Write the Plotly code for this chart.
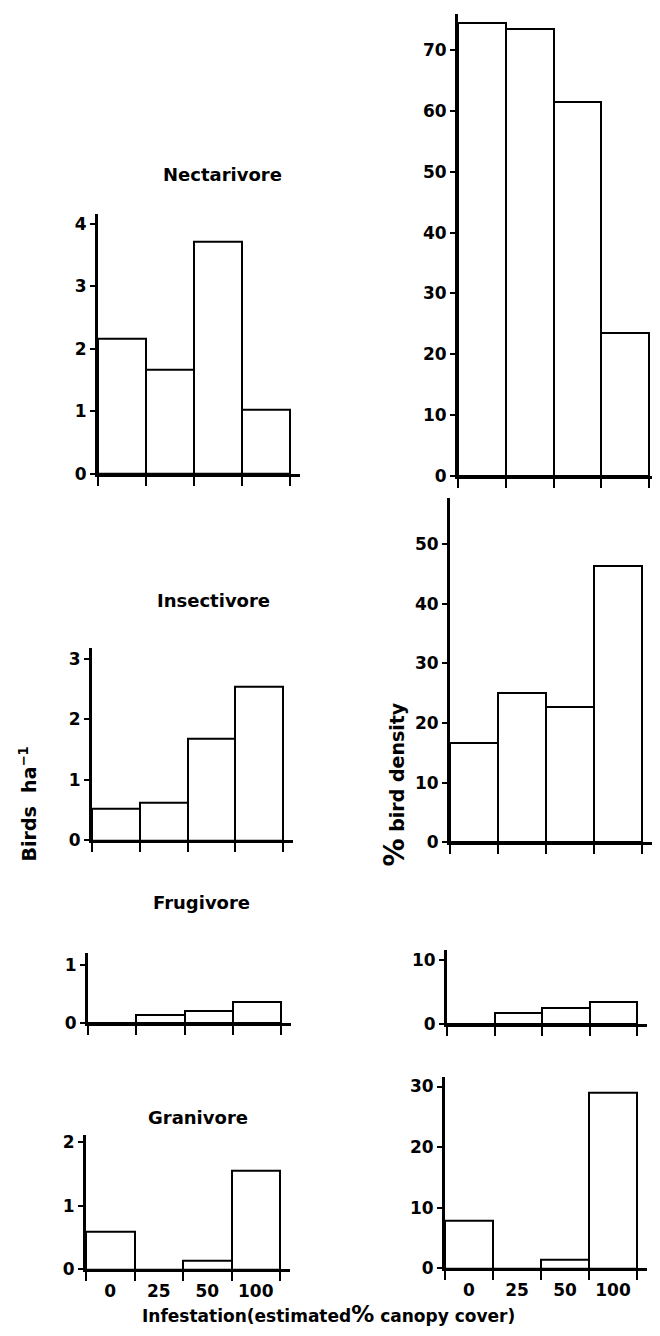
import plotly.graph_objects as go

OFF = 8  # default page margin of the browser
W, H = 660 - OFF, 1336 - OFF
KY = 1.007  # vertical compensation measured on the rendered page

categories = ["0", "25", "50", "100"]

nect_birds = [2.16, 1.67, 3.72, 1.03]
insect_birds = [0.53, 0.62, 1.67, 2.53]
frug_birds = [0.0, 0.14, 0.20, 0.36]
gran_birds = [0.60, 0.0, 0.13, 1.55]

nect_pct = [74.5, 73.5, 61.5, 23.5]
insect_pct = [16.7, 25.0, 22.7, 46.3]
frug_pct = [0.0, 1.7, 2.5, 3.5]
gran_pct = [7.8, 0.0, 1.4, 29.0]

titles = ["Nectarivore", "Insectivore", "Frugivore", "Granivore"]

left_ticks = [[0, 1, 2, 3, 4], [0, 1, 2, 3], [0, 1], [0, 1, 2]]
right_ticks = [[0, 10, 20, 30, 40, 50, 60, 70], [0, 10, 20, 30, 40, 50], [0, 10], [0, 10, 20, 30]]

# panel geometry in page pixels: (x of y-axis, x of last tick, y of zero line, y of axis top, range top)
left_geo = [(98, 290, 473, 212, 4.16), (92, 283, 840, 647, 3.18),
            (88, 281, 1023, 953, 1.2), (86, 280, 1270, 1135, 2.12)]
right_geo = [(458, 649, 475, 12, 75.9), (450, 642, 842, 497, 57.7),
             (447, 637, 1024, 950, 11.6), (445, 637, 1269, 1077, 31.6)]

title_pos = [(222, 173), (213, 600), (201, 902), (198, 1118)]


def px(v):
    return (v - OFF) / W


def py(v):
    return 1 - (v * KY - OFF) / H


FONT = "DejaVu Sans"
fig = go.Figure()
layout = {}

series = [(nect_birds, nect_pct), (insect_birds, insect_pct),
          (frug_birds, frug_pct), (gran_birds, gran_pct)]

idx = 0
for row in range(4):
    for col in range(2):
        idx += 1
        vals = series[row][col]
        geo = left_geo[row] if col == 0 else right_geo[row]
        ticks = left_ticks[row] if col == 0 else right_ticks[row]
        x0, xt, y0, ytop, rtop = geo
        x1 = min(x0 + (xt - x0) * 4.2 / 4.0, 660)
        xa = "x" if idx == 1 else f"x{idx}"
        ya = "y" if idx == 1 else f"y{idx}"
        fig.add_trace(go.Bar(
            x=list(range(len(categories))), y=vals, width=1.0,
            marker=dict(color="white", line=dict(color="black", width=2)),
            xaxis=xa, yaxis=ya, showlegend=False, hoverinfo="skip"))
        xkey = "xaxis" if idx == 1 else f"xaxis{idx}"
        ykey = "yaxis" if idx == 1 else f"yaxis{idx}"
        bottom = row == 3
        xr = -0.5 + (x1 - x0) / ((xt - x0) / 4.0)
        layout[xkey] = dict(
            domain=[px(x0), px(x1)], anchor=ya, range=[-0.5, xr],
            tickmode="array", tickvals=list(range(len(categories))),
            ticktext=categories,
            ticks="", showticklabels=bottom, ticklabelstandoff=4,
            tickfont=dict(family=FONT, size=17, color="black", weight="bold"),
            minor=dict(tickmode="array", tickvals=[-0.5, 0.5, 1.5, 2.5, 3.5],
                       ticks="outside", ticklen=9, tickwidth=2, tickcolor="black"),
            showline=True, linewidth=3, linecolor="black",
            showgrid=False, zeroline=False, fixedrange=True)
        layout[ykey] = dict(
            domain=[py(y0), py(ytop)], anchor=xa, range=[0, rtop],
            tickmode="array", tickvals=ticks,
            ticks="outside", ticklen=5, tickwidth=2, tickcolor="black",
            tickfont=dict(family=FONT, size=17, color="black", weight="bold"),
            showline=True, linewidth=3, linecolor="black",
            showgrid=False, zeroline=False, fixedrange=True)

annotations = []
for t, (tx, ty) in zip(titles, title_pos):
    annotations.append(dict(text=t, x=px(tx), y=py(ty), xref="paper", yref="paper",
                            showarrow=False, xanchor="center", yanchor="middle",
                            font=dict(family=FONT, size=18, color="black", weight="bold")))

annotations.append(dict(text="Birds  ha<sup>−1</sup>", x=px(28), y=py(804),
                        xref="paper", yref="paper", showarrow=False, textangle=-90,
                        xanchor="center", yanchor="middle",
                        font=dict(family=FONT, size=19, color="black", weight="bold")))
annotations.append(dict(text="<span style='font-size:28px'>%</span> bird density",
                        x=px(394), y=py(784),
                        xref="paper", yref="paper", showarrow=False, textangle=-90,
                        xanchor="center", yanchor="middle",
                        font=dict(family=FONT, size=19, color="black", weight="bold")))
annotations.append(dict(text="Infestation(estimated<span style='font-size:23px'>%</span> canopy cover)",
                        x=px(328), y=py(1315),
                        xref="paper", yref="paper", showarrow=False,
                        xanchor="center", yanchor="middle",
                        font=dict(family=FONT, size=17, color="black", weight="bold")))

fig.update_layout(
    width=W, height=H, margin=dict(l=0, r=0, t=0, b=0),
    paper_bgcolor="white", plot_bgcolor="white",
    bargap=0, annotations=annotations, **layout)

fig.write_html("out.html")
